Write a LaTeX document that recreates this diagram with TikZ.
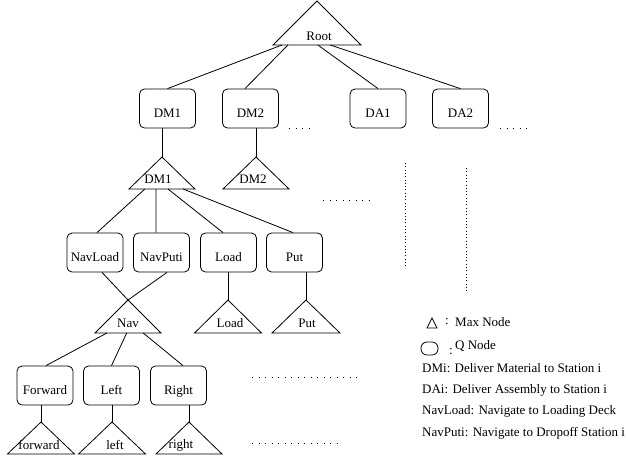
\documentclass[tikz,border=0pt]{standalone}
\usepackage{fontspec}
\setmainfont{Liberation Serif}
\usetikzlibrary{calc}
\newcommand{\mtri}[5]{%
  \coordinate (#1) at (#2,#3);
  \coordinate (#1-bl) at ({#2-#4},{#3+#5});
  \coordinate (#1-br) at ({#2+#4},{#3+#5});
  \draw[tri] (#1) -- (#1-bl) -- (#1-br) -- cycle;}
\begin{document}
\begin{tikzpicture}[x=1pt,y=-1pt,
  every node/.style={font=\fontsize{13}{15}\selectfont, inner sep=0pt},
  qbox/.style={draw, line width=0.8pt, rounded corners=5pt, minimum width=56pt, minimum height=39pt, text height=17.6pt, text depth=0pt},
  edge/.style={line width=0.8pt},
  tri/.style={line width=0.8pt, line join=miter},
  dots/.style={line width=1pt, dash pattern=on 1pt off 5.5pt},
  vdots/.style={line width=1pt, dash pattern=on 1pt off 2.3pt}]
\useasboundingbox (0,0) rectangle (626,459);

% Q nodes
\node[qbox] (qDM1) at (167.5,108.5) {DM1};
\node[qbox] (qDM2) at (250.5,108.5) {DM2};
\node[qbox] (qDA1) at (378,108.5) {DA1};
\node[qbox] (qDA2) at (460.5,108.5) {DA2};
\node[qbox] (qNavLoad) at (95,252.5) {NavLoad};
\node[qbox] (qNavPuti) at (161.5,252.5) {NavPuti};
\node[qbox] (qLoad) at (228.5,252.5) {Load};
\node[qbox] (qPut) at (294.5,252.5) {Put};
\node[qbox] (qForward) at (45,385.5) {Forward};
\node[qbox] (qLeft) at (111.5,385.5) {Left};
\node[qbox] (qRight) at (178.5,385.5) {Right};

% Max nodes
\mtri{tRoot}{317}{1}{44}{44}
\node (lRoot) at (319,36) {Root};
\mtri{tDM1}{162}{157}{33}{32}
\node (lDM1) at (158,179) {DM1};
\mtri{tDM2}{256}{157}{33}{32}
\node (lDM2) at (253,179) {DM2};
\mtri{tNav}{128}{300}{33}{33}
\node (lNav) at (128,323) {Nav};
\mtri{tLoad}{228}{300}{33.5}{33}
\node (lLoad) at (230,323) {Load};
\mtri{tPut}{306}{300}{34}{33}
\node (lPut) at (307,323) {Put};
\mtri{tfwd}{41}{422}{33.5}{32}
\node (lfwd) at (39,445) {forward};
\mtri{tleft}{112}{422}{33.5}{32}
\node (lleft) at (115,445) {left};
\mtri{tright}{189}{422}{33}{32}
\node (lright) at (181,445) {right};

% connectors
\draw[edge] ($(tRoot-bl)!0.102!(tRoot-br)$) -- (qDM1.north);
\draw[edge] ($(tRoot-bl)!0.17!(tRoot-br)$) -- ([xshift=-5.5pt]qDM2.north);
\draw[edge] ($(tRoot-bl)!0.51!(tRoot-br)$) -- (qDA1.north);
\draw[edge] ($(tRoot-bl)!0.65!(tRoot-br)$) -- (qDA2.north);

\draw[edge] (tDM1 |- qDM1.south) -- (tDM1);
\draw[edge] (tDM2 |- qDM2.south) -- (tDM2);

\draw[edge] ($(tDM1-bl)!0.24!(tDM1-br)$) -- ([xshift=2pt]qNavLoad.north);
\draw[edge] ($(tDM1-bl)!0.41!(tDM1-br)$) -- ([xshift=-5.5pt]qNavPuti.north);
\draw[edge] ($(tDM1-bl)!0.59!(tDM1-br)$) -- ([xshift=-5.5pt]qLoad.north);
\draw[edge] ($(tDM1-bl)!0.82!(tDM1-br)$) -- ([xshift=-1.5pt]qPut.north);

\draw[edge] ([xshift=7pt]qNavLoad.south) -- (tNav);
\draw[edge] ([xshift=5.5pt]qNavPuti.south) -- (tNav);
\draw[edge] (tLoad |- qLoad.south) -- (tLoad);
\draw[edge] (tPut |- qPut.south) -- (tPut);

\draw[edge] ($(tNav-bl)!0.18!(tNav-br)$) -- ([xshift=1pt]qForward.north);
\draw[edge] ($(tNav-bl)!0.48!(tNav-br)$) -- (qLeft.north);
\draw[edge] ($(tNav-bl)!0.73!(tNav-br)$) -- ([xshift=4.5pt]qRight.north);

\draw[edge] (tfwd |- qForward.south) -- (tfwd);
\draw[edge] (tleft |- qLeft.south) -- (tleft);
\draw[edge] (tright |- qRight.south) -- (tright);

% ellipsis dots
\draw[dots] (289,128) -- (311,128);
\draw[dots] (500,128) -- (528,128);
\draw[dots] (323,200) -- (369,200);
\draw[dots] (252,377) -- (358,377);
\draw[dots] (252,443) -- (339,443);
\draw[vdots] (405,163) -- (405,267);
\draw[vdots] (466,168) -- (466,292);

% legend
\draw[tri] (427,328) -- (432,318) -- (437,328) -- cycle;
\node (lgc1) at (447,322) {:};
\node[anchor=west] (lgMax) at (455,322) {Max Node};
\node[draw, line width=0.8pt, rounded corners=6pt, minimum width=17pt, minimum height=13pt] (lgQ) at (429.5,348.5) {};
\node (lgc2) at (451,352) {:};
\node[anchor=west] (lgQt) at (455,346) {Q Node};
\node[anchor=west] (lgDM) at (422,368) {DMi: Deliver Material to Station i};
\node[anchor=west] (lgDA) at (422,390) {DAi: Deliver Assembly to Station i};
\node[anchor=west] (lgNL) at (422,411) {NavLoad: Navigate to Loading Deck};
\node[anchor=west] (lgNP) at (422,433) {NavPuti: Navigate to Dropoff Station i};
\end{tikzpicture}
\end{document}
